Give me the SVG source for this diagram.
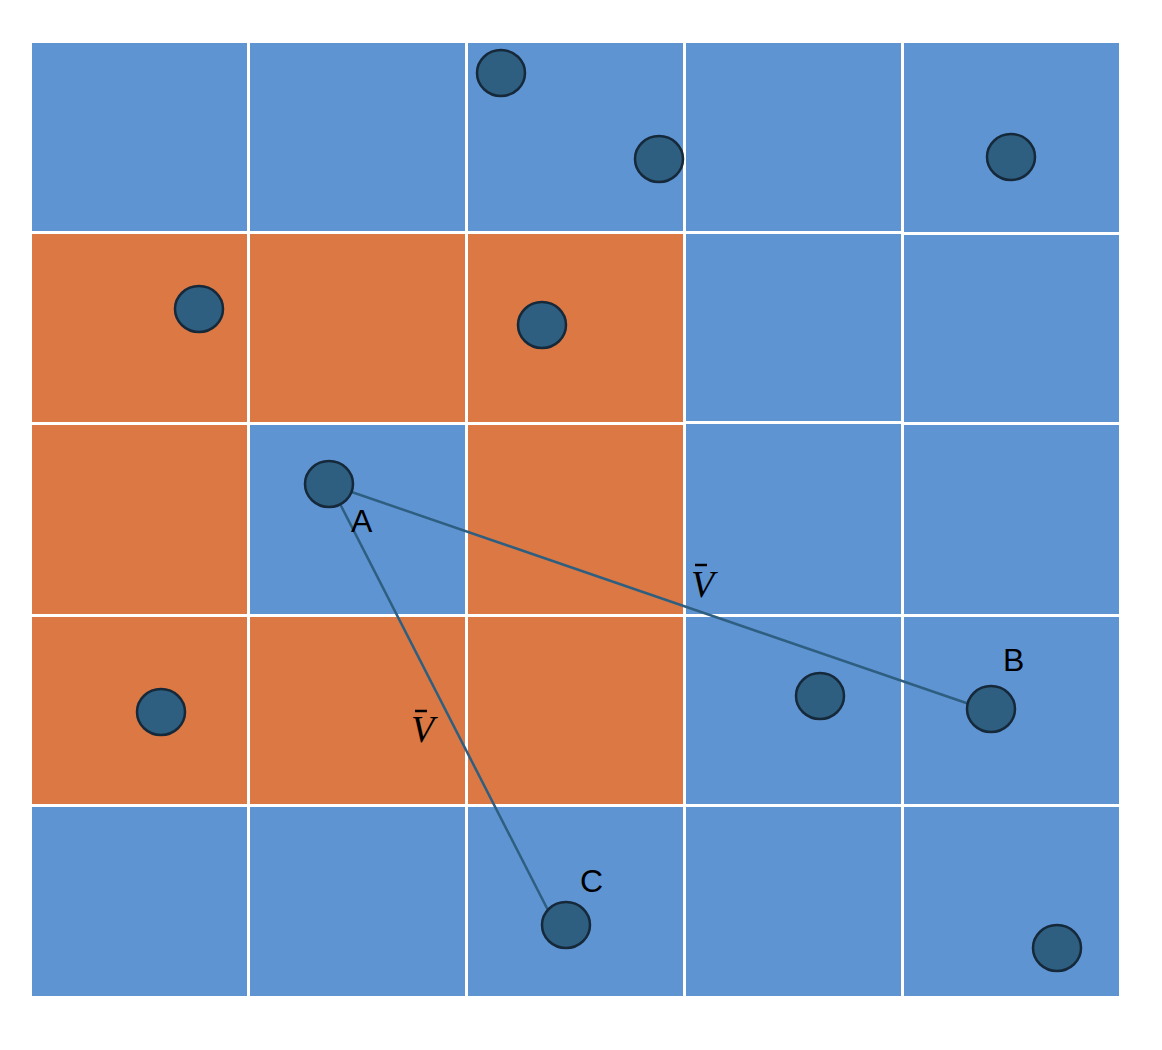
<svg xmlns="http://www.w3.org/2000/svg" width="1162" height="1050" viewBox="0 0 1162 1050">
<style>
.b{fill:#5F94D3}
.o{fill:#DB7843}
.n{fill:#2E5F80;stroke:#16293A;stroke-width:2.5}
.l{stroke:#2E5F80;stroke-width:2.5;fill:none}
.t{font-family:"Liberation Sans",Arial,sans-serif;font-size:32px;fill:#000}
.v{font-family:"Liberation Serif","Times New Roman",serif;font-style:italic;font-size:38px;fill:#000}
.bar{stroke:#000;stroke-width:2.5}
</style>
<rect width="1162" height="1050" fill="#fff"/>
<g id="grid">
<rect class="b" x="32" y="43" width="215" height="188"/>
<rect class="b" x="250" y="43" width="215" height="188"/>
<rect class="b" x="468" y="43" width="215" height="188"/>
<rect class="b" x="686" y="43" width="215" height="188"/>
<rect class="b" x="904" y="43" width="215" height="189"/>
<rect class="o" x="32" y="234" width="215" height="188"/>
<rect class="o" x="250" y="234" width="215" height="188"/>
<rect class="o" x="468" y="234" width="215" height="188"/>
<rect class="b" x="686" y="234" width="215" height="187"/>
<rect class="b" x="904" y="235" width="215" height="187"/>
<rect class="o" x="32" y="425" width="215" height="189"/>
<rect class="b" x="250" y="425" width="215" height="189"/>
<rect class="o" x="468" y="425" width="215" height="189"/>
<rect class="b" x="686" y="424" width="215" height="190"/>
<rect class="b" x="904" y="425" width="215" height="189"/>
<rect class="o" x="32" y="617" width="215" height="187"/>
<rect class="o" x="250" y="617" width="215" height="187"/>
<rect class="o" x="468" y="617" width="215" height="187"/>
<rect class="b" x="686" y="617" width="215" height="187"/>
<rect class="b" x="904" y="617" width="215" height="187"/>
<rect class="b" x="32" y="807" width="215" height="189"/>
<rect class="b" x="250" y="807" width="215" height="189"/>
<rect class="b" x="468" y="807" width="215" height="189"/>
<rect class="b" x="686" y="807" width="215" height="189"/>
<rect class="b" x="904" y="807" width="215" height="189"/>
</g>
<g id="connectors">
<line class="l" x1="340" y1="488" x2="975" y2="706"/>
<line class="l" x1="336" y1="496" x2="553" y2="920"/>
</g>
<g id="p1"><ellipse class="n" cx="501" cy="73" rx="24" ry="23"/></g>
<g id="p2"><ellipse class="n" cx="659" cy="159" rx="24" ry="23"/></g>
<g id="p3"><ellipse class="n" cx="1011" cy="157" rx="24" ry="23"/></g>
<g id="p4"><ellipse class="n" cx="199" cy="309" rx="24" ry="23"/></g>
<g id="p5"><ellipse class="n" cx="542" cy="325" rx="24" ry="23"/></g>
<g id="nodeA"><ellipse class="n" cx="329" cy="484" rx="24" ry="23"/><text class="t" x="351" y="532">A</text></g>
<g id="p7"><ellipse class="n" cx="161" cy="712" rx="24" ry="23"/></g>
<g id="p8"><ellipse class="n" cx="820" cy="696" rx="24" ry="23"/></g>
<g id="nodeB"><ellipse class="n" cx="991" cy="709" rx="24" ry="23"/><text class="t" x="1003" y="671">B</text></g>
<g id="nodeC"><ellipse class="n" cx="566" cy="925" rx="24" ry="23"/><text class="t" x="580" y="892">C</text></g>
<g id="p11"><ellipse class="n" cx="1057" cy="948" rx="24" ry="23"/></g>
<g id="labels">
<text class="v" x="691" y="597">V</text>
<line class="bar" x1="695" y1="565" x2="707" y2="565"/>
<text class="v" x="411" y="742">V</text>
<line class="bar" x1="415" y1="711" x2="427" y2="711"/>
</g>
</svg>
